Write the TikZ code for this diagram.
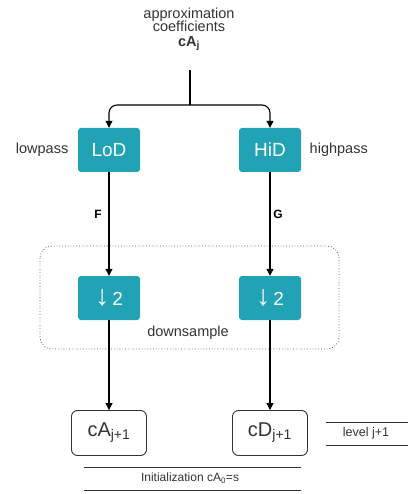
\documentclass[tikz,border=0pt]{standalone}
\usepackage{fontspec}
\setmainfont{Liberation Sans}
\usetikzlibrary{positioning,arrows.meta}
\definecolor{filtro}{HTML}{22A3B5}
\definecolor{testo}{HTML}{333333}

\begin{document}
\begin{tikzpicture}[x=1pt,y=-1pt,
    filtro/.style={rectangle, rounded corners=3pt, fill=filtro, text=white,
        minimum width=62pt, minimum height=44pt, font=\fontsize{19}{21}\selectfont},
    coeff/.style={rectangle, rounded corners=6pt, draw=testo, line width=0.9pt,
        minimum width=75pt, minimum height=45pt, text=testo, font=\fontsize{20}{22}\selectfont},
    etichetta/.style={text=testo, font=\fontsize{14.5}{15}\selectfont},
    freccia/.style={-{Triangle[length=7pt,width=7pt]}, line width=1.1pt}]
    \useasboundingbox (0,0) rectangle (408,494);
    % Ingresso: coefficienti di approssimazione
    \node[etichetta, align=center] (ingresso) at (189,29)
        {approximation\\[-1pt]coefficients\\[-1pt]\textbf{cA\textsubscript{j}}};
    \coordinate (inizio) at (190,70);
    \coordinate (ramo) at (190,105);
    % Filtri passa basso e passa alto
    \node[filtro] (LoD) at (109,150) {LoD};
    \node[filtro] (HiD) at (270,150) {HiD};
    \node[etichetta, left=6pt of LoD] (basso) {lowpass};
    \node[etichetta, right=5pt of HiD] (alto) {highpass};
    % Sottocampionamento
    \draw[testo!80, dotted, line width=0.8pt, rounded corners=12pt] (40,246) rectangle (339,349);
    \foreach \n/\x in {A/109, D/270} {
        \node[filtro] (giu\n) at (\x,298) {\scalebox{1.5}[1.5]{\textbf{↓}}\,2};
        \node[coeff] (c\n) at (\x,433) {c\n\textsubscript{j+1}};
    }
    \node[etichetta] (down) at (188,333) {downsample};
    % Collegamenti
    \draw[line width=1.1pt] (inizio) -- (ramo);
    \draw[freccia, rounded corners=8pt] (ramo) -| (LoD.north);
    \draw[freccia, rounded corners=8pt] (ramo) -| (HiD.north);
    \draw[freccia] (LoD) -- (giuA);
    \draw[freccia] (HiD) -- (giuD);
    \draw[freccia] (giuA) -- (cA);
    \draw[freccia] (giuD) -- (cD);
    \node[font=\bfseries\fontsize{12}{14}\selectfont] (F) at (98,214) {F};
    \node[font=\bfseries\fontsize{12}{14}\selectfont] (G) at (278,214) {G};
    % Livello e inizializzazione
    \draw[testo, line width=0.7pt] (326,422) -- (408,422) (326,445) -- (408,445);
    \node[text=testo, font=\fontsize{12.5}{14}\selectfont] (livello) at (366,433) {level j+1};
    \draw[testo, line width=0.7pt] (84,467) -- (301,467) (84,490) -- (301,490);
    \node[text=testo, font=\fontsize{12}{14}\selectfont] (init) at (190,478) {Initialization cA\textsubscript{0}=s};
\end{tikzpicture}
\end{document}
